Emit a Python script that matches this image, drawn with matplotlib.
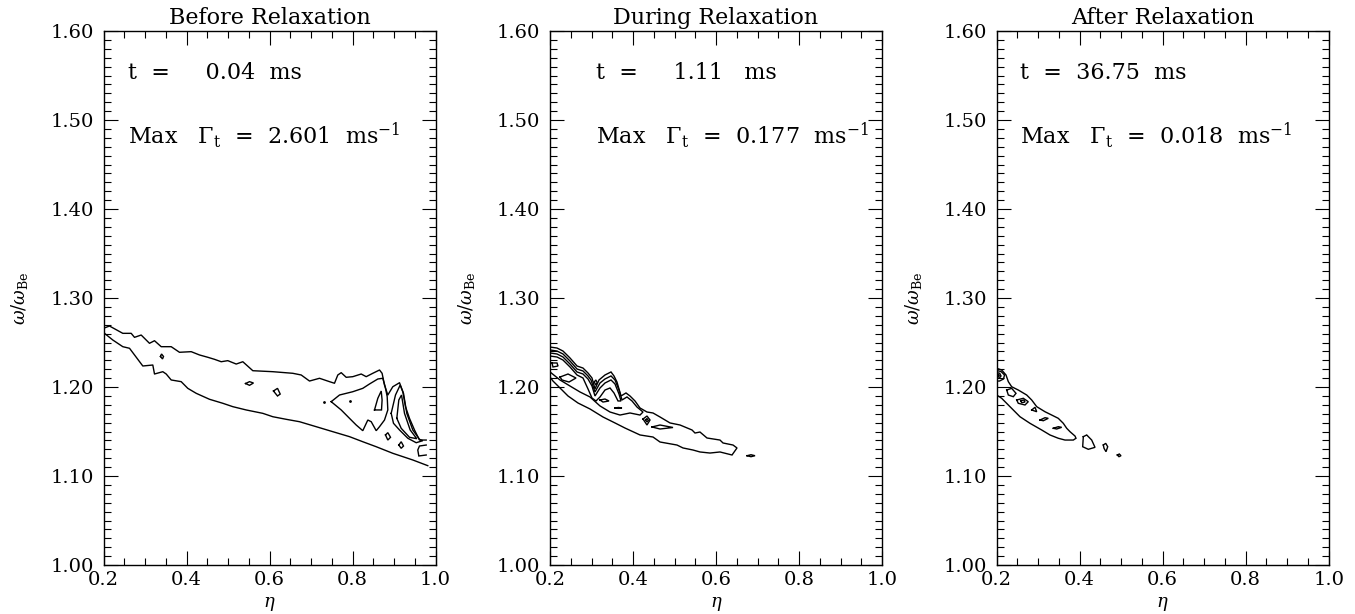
import matplotlib
matplotlib.use("Agg")
import matplotlib.pyplot as plt
from matplotlib.ticker import MultipleLocator, FormatStrFormatter

plt.rcParams['font.family'] = ['DejaVu Serif']
plt.rcParams['mathtext.fontset'] = 'dejavuserif'

# ---------------- data ----------------
TITLES = ["Before Relaxation", "During Relaxation", "After Relaxation"]
TIMES = ["t  =     0.04  ms", "t  =     1.11   ms", "t  =  36.75  ms"]
MAX_RATES = ["2.601", "0.177", "0.018"]
X_TICKS = [0.2, 0.4, 0.6, 0.8, 1.0]
Y_TICKS = [1.00, 1.10, 1.20, 1.30, 1.40, 1.50, 1.60]

# Panel 1 (Before relaxation) contour paths, (eta, omega/omega_Be)
P1_UPPER = [(0.200, 1.266), (0.2145, 1.2685), (0.2465, 1.2603), (0.2667, 1.2603), (0.2747, 1.2558),
            (0.2908, 1.2584), (0.3108, 1.2491), (0.3229, 1.2520), (0.3390, 1.2453), (0.3631, 1.2453),
            (0.3831, 1.2390), (0.4113, 1.2397), (0.4313, 1.2360), (0.4513, 1.2334), (0.4675, 1.2311),
            (0.4836, 1.2284), (0.4995, 1.2296), (0.5198, 1.2258), (0.5357, 1.2284), (0.5598, 1.2183),
            (0.6080, 1.2172), (0.6561, 1.2154), (0.6764, 1.2135), (0.6964, 1.2067), (0.7205, 1.2098),
            (0.7446, 1.2060), (0.7566, 1.2042), (0.7646, 1.2135), (0.7728, 1.2161), (0.7848, 1.2109),
            (0.8007, 1.2116), (0.8210, 1.2146), (0.8330, 1.2116), (0.8489, 1.2154), (0.8651, 1.2191),
            (0.8713, 1.2154), (0.8771, 1.2022), (0.8851, 1.1910), (0.8971, 1.2003), (0.9133, 1.2048),
            (0.9212, 1.1947), (0.9277, 1.1779), (0.9373, 1.1648), (0.9494, 1.1517), (0.9614, 1.1404),
            (0.9776, 1.1404)]
P1_LOWER = [(0.200, 1.266), (0.2024, 1.2603), (0.2224, 1.2528), (0.2465, 1.2453), (0.2627, 1.2435),
            (0.2947, 1.2236), (0.3188, 1.2247), (0.3229, 1.2146), (0.3429, 1.2172), (0.3511, 1.2146),
            (0.3631, 1.2079), (0.3872, 1.2060), (0.4031, 1.1985), (0.4234, 1.1929), (0.4554, 1.1862),
            (0.4875, 1.1817), (0.5116, 1.1779), (0.5439, 1.1742), (0.5839, 1.1704), (0.6080, 1.1666),
            (0.6402, 1.1637), (0.6723, 1.1610), (0.7125, 1.1554), (0.7525, 1.1498), (0.7928, 1.1442),
            (0.8248, 1.1385), (0.8571, 1.1329), (0.8971, 1.1255), (0.9453, 1.1180), (0.9814, 1.1116)]
P1_ARROW = [(0.7487, 1.1835), (0.7687, 1.1910), (0.8007, 1.1947), (0.8248, 1.1985), (0.8410, 1.2034),
            (0.8610, 1.2090), (0.8730, 1.2098), (0.8788, 1.2003), (0.8836, 1.1891), (0.8851, 1.1742),
            (0.8771, 1.1629), (0.8651, 1.1554), (0.8571, 1.1509), (0.8451, 1.1610), (0.8369, 1.1629),
            (0.8248, 1.1509), (0.8089, 1.1573), (0.7928, 1.1648), (0.7728, 1.1742)]
P1_LOBE1_IN = [(0.8530, 1.1742), (0.8610, 1.1873), (0.8692, 1.1955), (0.8713, 1.1854), (0.8699, 1.1742)]
P1_LOBE2 = [(0.8932, 1.1704), (0.9036, 1.1910), (0.9149, 1.2022), (0.9229, 1.1929), (0.9308, 1.1704),
            (0.9453, 1.1517), (0.9614, 1.1412), (0.9694, 1.1397), (0.9535, 1.1374), (0.9333, 1.1424),
            (0.9133, 1.1517), (0.8988, 1.1592)]
P1_LOBE2_IN = [(0.9068, 1.1648), (0.9116, 1.1854), (0.9181, 1.1910), (0.9253, 1.1704), (0.9390, 1.1517),
               (0.9549, 1.1419), (0.9373, 1.1435), (0.9173, 1.1536)]
P1_SMALL = [
    [(0.3373, 1.2343), (0.3398, 1.2371), (0.3446, 1.2343), (0.3422, 1.2315)],
    [(0.5422, 1.2039), (0.5518, 1.2060), (0.5614, 1.2045), (0.5518, 1.2019)],
    [(0.6096, 1.1955), (0.6193, 1.1985), (0.6258, 1.1921), (0.6193, 1.1899)],
    [(0.8795, 1.1461), (0.8851, 1.1487), (0.8916, 1.1435), (0.8851, 1.1404)],
    [(0.9116, 1.1348), (0.9173, 1.1385), (0.9229, 1.1337), (0.9173, 1.1311)],
]
P1_BRACKET = [(0.9776, 1.1348), (0.9614, 1.1337), (0.9573, 1.1292), (0.9598, 1.1225), (0.9776, 1.1236)]
P1_DOTS_ETA = [0.7308, 0.7928]
P1_DOTS_OMEGA = [1.1837, 1.1846]

# Panel 2 (During relaxation)
P2_L1 = [(0.200, 1.2449), (0.2169, 1.2438), (0.2313, 1.2404), (0.2482, 1.2326), (0.2651, 1.2236),
         (0.2795, 1.2213), (0.2916, 1.2157), (0.3012, 1.2101), (0.3084, 1.1978), (0.3181, 1.2079),
         (0.3325, 1.2135), (0.3470, 1.2169), (0.3542, 1.2124), (0.3614, 1.2056), (0.3711, 1.1899),
         (0.3831, 1.1933), (0.3928, 1.1899), (0.4048, 1.1843), (0.4169, 1.1764), (0.4337, 1.1719),
         (0.4482, 1.1708), (0.4651, 1.1663), (0.4892, 1.1596), (0.5133, 1.1573), (0.5422, 1.1517),
         (0.5494, 1.1483), (0.5614, 1.1494), (0.5783, 1.1427), (0.6096, 1.1404), (0.6169, 1.1371),
         (0.6410, 1.1348), (0.6506, 1.1315), (0.6386, 1.1236), (0.6096, 1.1270), (0.5855, 1.1258),
         (0.5614, 1.1270), (0.5446, 1.1292), (0.5205, 1.1315), (0.5060, 1.1348), (0.4651, 1.1382),
         (0.4482, 1.1438), (0.4169, 1.1461), (0.3807, 1.1539), (0.3566, 1.1596), (0.3277, 1.1663),
         (0.2964, 1.1753), (0.2675, 1.1820), (0.2434, 1.1899), (0.2241, 1.1989), (0.2072, 1.2067),
         (0.200, 1.2112)]
P2_L2 = [(0.200, 1.2416), (0.2169, 1.2404), (0.2313, 1.2371), (0.2482, 1.2292), (0.2651, 1.2202),
         (0.2795, 1.2180), (0.2916, 1.2124), (0.2988, 1.2079), (0.3084, 1.1944), (0.3205, 1.2045),
         (0.3325, 1.2090), (0.3470, 1.2124), (0.3566, 1.2079), (0.3663, 1.1966), (0.3735, 1.1854),
         (0.3855, 1.1888), (0.3976, 1.1843), (0.4096, 1.1775), (0.4241, 1.1719), (0.4169, 1.1685),
         (0.3928, 1.1708), (0.3687, 1.1685), (0.3446, 1.1719), (0.3205, 1.1787), (0.2964, 1.1888),
         (0.2723, 1.1944), (0.2482, 1.2011), (0.2241, 1.2079), (0.200, 1.2169)]
P2_L3 = [(0.200, 1.2382), (0.2169, 1.2371), (0.2313, 1.2337), (0.2482, 1.2258), (0.2651, 1.2169),
         (0.2795, 1.2146), (0.2916, 1.2090), (0.3012, 1.2011), (0.3084, 1.1899), (0.3205, 1.1989),
         (0.3325, 1.2045), (0.3470, 1.2079), (0.3566, 1.2034), (0.3663, 1.1921), (0.3711, 1.1843),
         (0.3639, 1.1843), (0.3542, 1.1933), (0.3446, 1.1989), (0.3325, 1.1966), (0.3205, 1.1888),
         (0.3108, 1.1843), (0.3012, 1.1876), (0.2916, 1.1978), (0.2795, 1.2101), (0.2651, 1.2135),
         (0.2482, 1.2225), (0.2313, 1.2303), (0.2169, 1.2337), (0.200, 1.2348)]
P2_SMALL = [
    [(0.2048, 1.2270), (0.2169, 1.2270), (0.2193, 1.2236), (0.2072, 1.2225)],
    [(0.2241, 1.2112), (0.2434, 1.2146), (0.2627, 1.2101), (0.2458, 1.2056), (0.2289, 1.2079)],
    [(0.3067, 1.2056), (0.3104, 1.2079), (0.3137, 1.2051), (0.3104, 1.2022)],
    [(0.3205, 1.1854), (0.3325, 1.1865), (0.3422, 1.1843), (0.3277, 1.1831)],
    [(0.3566, 1.1764), (0.3650, 1.1770), (0.3735, 1.1764), (0.3650, 1.1760)],
    [(0.4241, 1.1640), (0.4337, 1.1674), (0.4410, 1.1629), (0.4337, 1.1573)],
    [(0.4301, 1.1629), (0.4337, 1.1646), (0.4369, 1.1624), (0.4337, 1.1607)],
    [(0.4458, 1.1551), (0.4651, 1.1573), (0.4964, 1.1545), (0.4651, 1.1528)],
    [(0.6747, 1.1228), (0.6843, 1.1239), (0.6940, 1.1228), (0.6843, 1.1217)],
]

# Panel 3 (After relaxation)
P3_L1 = [(0.200, 1.2210), (0.2120, 1.2191), (0.2224, 1.2135), (0.2280, 1.2060), (0.2361, 1.2003),
         (0.2520, 1.1966), (0.2723, 1.1910), (0.2843, 1.1854), (0.2964, 1.1779), (0.3164, 1.1722),
         (0.3325, 1.1685), (0.3484, 1.1648), (0.3605, 1.1592), (0.3687, 1.1536), (0.3766, 1.1498),
         (0.3887, 1.1449), (0.3911, 1.1424), (0.3846, 1.1404), (0.3646, 1.1404), (0.3484, 1.1424),
         (0.3284, 1.1461), (0.3084, 1.1517), (0.2802, 1.1592), (0.2561, 1.1666), (0.2320, 1.1779),
         (0.2120, 1.1873), (0.200, 1.1910)]
P3_NEST_A = [(0.200, 1.2185), (0.2104, 1.2174), (0.2188, 1.2135), (0.2164, 1.2090), (0.2067, 1.2067),
             (0.200, 1.2067)]
P3_NEST_B = [(0.200, 1.2163), (0.2072, 1.2154), (0.2104, 1.2124), (0.2067, 1.2101), (0.200, 1.2101)]
P3_SMALL = [
    [(0.2014, 1.2140), (0.2048, 1.2143), (0.2063, 1.2124), (0.2031, 1.2116)],
    [(0.2241, 1.1966), (0.2361, 1.1985), (0.2465, 1.1929), (0.2400, 1.1891), (0.2280, 1.1910)],
    [(0.2482, 1.1854), (0.2641, 1.1873), (0.2761, 1.1835), (0.2682, 1.1798), (0.2520, 1.1817)],
    [(0.2578, 1.1846), (0.2658, 1.1854), (0.2682, 1.1831), (0.2602, 1.1824)],
    [(0.2843, 1.1742), (0.2923, 1.1772), (0.2964, 1.1722)],
    [(0.3043, 1.1629), (0.3164, 1.1655), (0.3243, 1.1648), (0.3123, 1.1621)],
    [(0.3364, 1.1536), (0.3484, 1.1554), (0.3566, 1.1547), (0.3446, 1.1528)],
    [(0.4087, 1.1442), (0.4169, 1.1461), (0.4289, 1.1404), (0.4369, 1.1322), (0.4207, 1.1300),
     (0.4072, 1.1329)],
    [(0.4569, 1.1348), (0.4627, 1.1367), (0.4675, 1.1329), (0.4634, 1.1273), (0.4586, 1.1311)],
    [(0.4906, 1.1236), (0.4954, 1.1247), (0.4995, 1.1228), (0.4947, 1.1217)],
]

# ---------------- drawing ----------------
LW = 1.0


def draw(ax, pts, closed=True):
    xs = [p[0] for p in pts]
    ys = [p[1] for p in pts]
    if closed:
        xs.append(xs[0])
        ys.append(ys[0])
    ax.plot(xs, ys, color='black', lw=LW, solid_joinstyle='miter')


fig = plt.figure(figsize=(13.55, 6.14), dpi=100)
lefts = [103.5 / 1355, 550 / 1355, 996.7 / 1355]
W = 332 / 1355
B = 49 / 614
H = 534 / 614
text_x = [0.073, 0.14, 0.07]

axes = []
for i, l in enumerate(lefts):
    ax = fig.add_axes([l, B, W, H])
    axes.append(ax)
    ax.set_xlim(0.2, 1.0)
    ax.set_ylim(1.0, 1.6)
    ax.set_xticks(X_TICKS)
    ax.set_yticks(Y_TICKS)
    ax.xaxis.set_minor_locator(MultipleLocator(0.05))
    ax.yaxis.set_minor_locator(MultipleLocator(0.01))
    ax.xaxis.set_major_formatter(FormatStrFormatter('%.1f'))
    ax.yaxis.set_major_formatter(FormatStrFormatter('%.2f'))
    ax.tick_params(which='both', direction='in', top=True, right=True, width=0.8,
                   labelsize=14, colors='black')
    ax.tick_params(which='major', length=10, pad=7)
    ax.tick_params(axis='x', which='major', pad=4)
    ax.tick_params(which='minor', length=5)
    for s in ax.spines.values():
        s.set_linewidth(1.0)
    ax.set_title(TITLES[i], fontsize=16, pad=5)
    ax.set_xlabel(r'$\eta$', fontsize=13)
    ax.xaxis.set_label_coords(0.5, -0.057)
    ax.set_ylabel(r'$\omega/\omega_{\rm Be}$', fontsize=13)
    ax.yaxis.set_label_coords(-0.22, 0.5)
    ax.text(text_x[i], 0.921, TIMES[i], transform=ax.transAxes, fontsize=16, va='center')
    ax.text(text_x[i], 0.803, r'Max   $\Gamma_{\rm t}$  =  ' + MAX_RATES[i] + r'  ms$^{-1}$',
            transform=ax.transAxes, fontsize=16, va='center', clip_on=False)

a1, a2, a3 = axes
# panel 1
up = P1_UPPER[::-1]
a1.plot([p[0] for p in up] + [p[0] for p in P1_LOWER[1:]],
        [p[1] for p in up] + [p[1] for p in P1_LOWER[1:]], color='black', lw=LW)
draw(a1, P1_ARROW)
draw(a1, P1_LOBE1_IN)
draw(a1, P1_LOBE2)
draw(a1, P1_LOBE2_IN)
for s in P1_SMALL:
    draw(a1, s)
draw(a1, P1_BRACKET, closed=False)
a1.plot(P1_DOTS_ETA, P1_DOTS_OMEGA, 'k.', ms=2)

# panel 2
draw(a2, P2_L1)
draw(a2, P2_L2)
draw(a2, P2_L3)
for s in P2_SMALL:
    draw(a2, s)

# panel 3
draw(a3, P3_L1)
draw(a3, P3_NEST_A)
draw(a3, P3_NEST_B)
for s in P3_SMALL:
    draw(a3, s)

fig.savefig('out.png', dpi=100, facecolor='white')
